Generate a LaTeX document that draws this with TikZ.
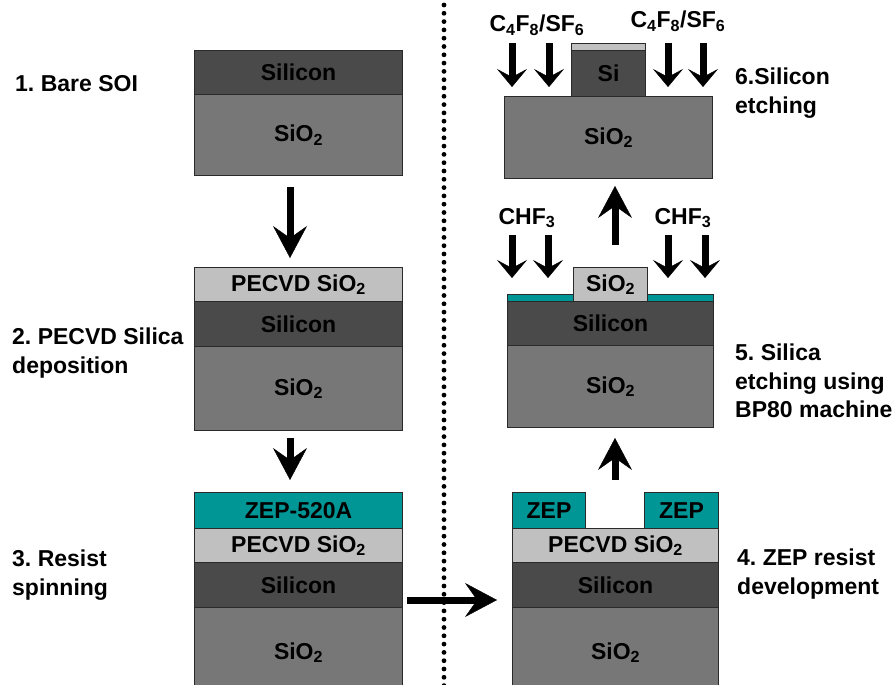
\documentclass[tikz,border=0pt]{standalone}
\usepackage{fontspec}
\setmainfont{Liberation Sans}
\usetikzlibrary{arrows.meta}
\definecolor{sicol}{HTML}{4A4A4A}
\definecolor{oxcol}{HTML}{777777}
\definecolor{pecol}{HTML}{C0C0C0}
\definecolor{zepcol}{HTML}{009696}
\definecolor{edgecol}{HTML}{2A2A2A}
\frenchspacing
\begin{document}
\begin{tikzpicture}[x=1pt,y=-1pt,
  every node/.style={font=\bfseries\fontsize{23}{28.5}\selectfont},
  layer/.style={draw=edgecol, line width=1.1pt, anchor=north west, inner sep=0pt},
  lbl/.style={anchor=west, align=left, inner sep=0pt},
  gas/.style={inner sep=0pt},
  bigarrow/.style={-{Stealth[length=32pt,width=34pt,inset=12pt,line width=0.4pt]}, line width=7pt},
  gasarrow/.style={-{Stealth[length=18pt,width=30pt,inset=8pt,line width=0.4pt]}, line width=7pt},
  dotline/.style={line width=4.8pt, line cap=round, dash pattern=on 0pt off 8.3pt}
]
\useasboundingbox (0,0) rectangle (895,685);
\clip (0,0) rectangle (895,685);

% separator
\coordinate (dtop) at (444,5);
\coordinate (dbot) at (444,690);
\draw[dotline] (dtop) -- (dbot);

% stack 1
\node[layer, fill=sicol, minimum width=208pt, minimum height=44pt] (s1si) at (194,50) {Silicon};
\node[layer, fill=oxcol, minimum width=208pt, minimum height=81pt] (s1ox) at (194,94) {SiO\textsubscript{2}};

% stack 2
\node[layer, fill=pecol, minimum width=208pt, minimum height=34pt] (s2pe) at (194,267) {PECVD SiO\textsubscript{2}};
\node[layer, fill=sicol, minimum width=208pt, minimum height=45pt] (s2si) at (194,301) {Silicon};
\node[layer, fill=oxcol, minimum width=208pt, minimum height=84pt] (s2ox) at (194,346) {SiO\textsubscript{2}};

% stack 3
\node[layer, fill=zepcol, minimum width=208pt, minimum height=36pt] (s3zep) at (194,492) {ZEP-520A};
\node[layer, fill=pecol, minimum width=208pt, minimum height=34pt] (s3pe) at (194,528) {PECVD SiO\textsubscript{2}};
\node[layer, fill=sicol, minimum width=208pt, minimum height=45pt] (s3si) at (194,562) {Silicon};
\node[layer, fill=oxcol, minimum width=208pt, minimum height=90pt] (s3ox) at (194,607) {SiO\textsubscript{2}};

% stack 4
\node[layer, fill=zepcol, minimum width=73pt, minimum height=36pt] (s4zl) at (512,492) {ZEP};
\node[layer, fill=zepcol, minimum width=74pt, minimum height=36pt] (s4zr) at (644,492) {ZEP};
\node[layer, fill=pecol, minimum width=206pt, minimum height=34pt] (s4pe) at (512,528) {PECVD SiO\textsubscript{2}};
\node[layer, fill=sicol, minimum width=206pt, minimum height=45pt] (s4si) at (512,562) {Silicon};
\node[layer, fill=oxcol, minimum width=206pt, minimum height=90pt] (s4ox) at (512,607) {SiO\textsubscript{2}};

% stack 5
\node[layer, fill=zepcol, minimum width=206pt, minimum height=7pt] (s5zep) at (507,294) {};
\node[layer, fill=sicol, minimum width=206pt, minimum height=44pt] (s5si) at (507,301) {Silicon};
\node[layer, fill=oxcol, minimum width=206pt, minimum height=82pt] (s5ox) at (507,345) {SiO\textsubscript{2}};
\node[layer, fill=pecol, minimum width=74pt, minimum height=34pt] (s5pe) at (573,267) {SiO\textsubscript{2}};

% stack 6
\node[layer, fill=oxcol, minimum width=208pt, minimum height=82pt] (s6ox) at (504,96) {SiO\textsubscript{2}};
\node[layer, fill=sicol, minimum width=74pt, minimum height=46pt] (s6si) at (571,50) {Si};
\node[layer, fill=pecol, minimum width=74pt, minimum height=7pt] (s6cap) at (571,43) {};

% step labels
\node[lbl] (t1) at (15,84) {1. Bare SOI};
\node[lbl] (t2) at (12,353) {2. PECVD Silica\\deposition};
\node[lbl] (t3) at (12,575) {3. Resist\\spinning};
\node[lbl] (t4) at (737,574) {4. ZEP resist\\development};
\node[lbl] (t5) at (735,381) {5. Silica\\etching using\\BP80 machine};
\node[lbl] (t6) at (735,93) {6.Silicon\\etching};

% gas labels
\node[gas] (g6l) at (537,25) {C\textsubscript{4}F\textsubscript{8}/SF\textsubscript{6}};
\node[gas] (g6r) at (678,21) {C\textsubscript{4}F\textsubscript{8}/SF\textsubscript{6}};
\node[gas] (g5l) at (527,218) {CHF\textsubscript{3}};
\node[gas] (g5r) at (683,218) {CHF\textsubscript{3}};

% process arrows
\coordinate (a1s) at (290,187); \coordinate (a1e) at (290,258);
\coordinate (a2s) at (290,438); \coordinate (a2e) at (290,480);
\coordinate (a3s) at (407,600); \coordinate (a3e) at (497,600);
\coordinate (a4s) at (615,480); \coordinate (a4e) at (615,438);
\coordinate (a5s) at (615,245); \coordinate (a5e) at (615,186);
\draw[bigarrow] (a1s) -- (a1e);
\draw[bigarrow] (a2s) -- (a2e);
\draw[bigarrow] (a3s) -- (a3e);
\draw[bigarrow] (a4s) -- (a4e);
\draw[bigarrow] (a5s) -- (a5e);

% gas arrows, step 6
\foreach \x/\n in {512/a, 549/b, 668/c, 703/d}{
  \coordinate (six\n s) at (\x,43);
  \coordinate (six\n e) at (\x,87);
  \draw[gasarrow] (six\n s) -- (six\n e);
}
% gas arrows, step 5
\foreach \x/\n in {512/a, 548/b, 668/c, 705/d}{
  \coordinate (five\n s) at (\x,235);
  \coordinate (five\n e) at (\x,278);
  \draw[gasarrow] (five\n s) -- (five\n e);
}
\end{tikzpicture}
\end{document}
